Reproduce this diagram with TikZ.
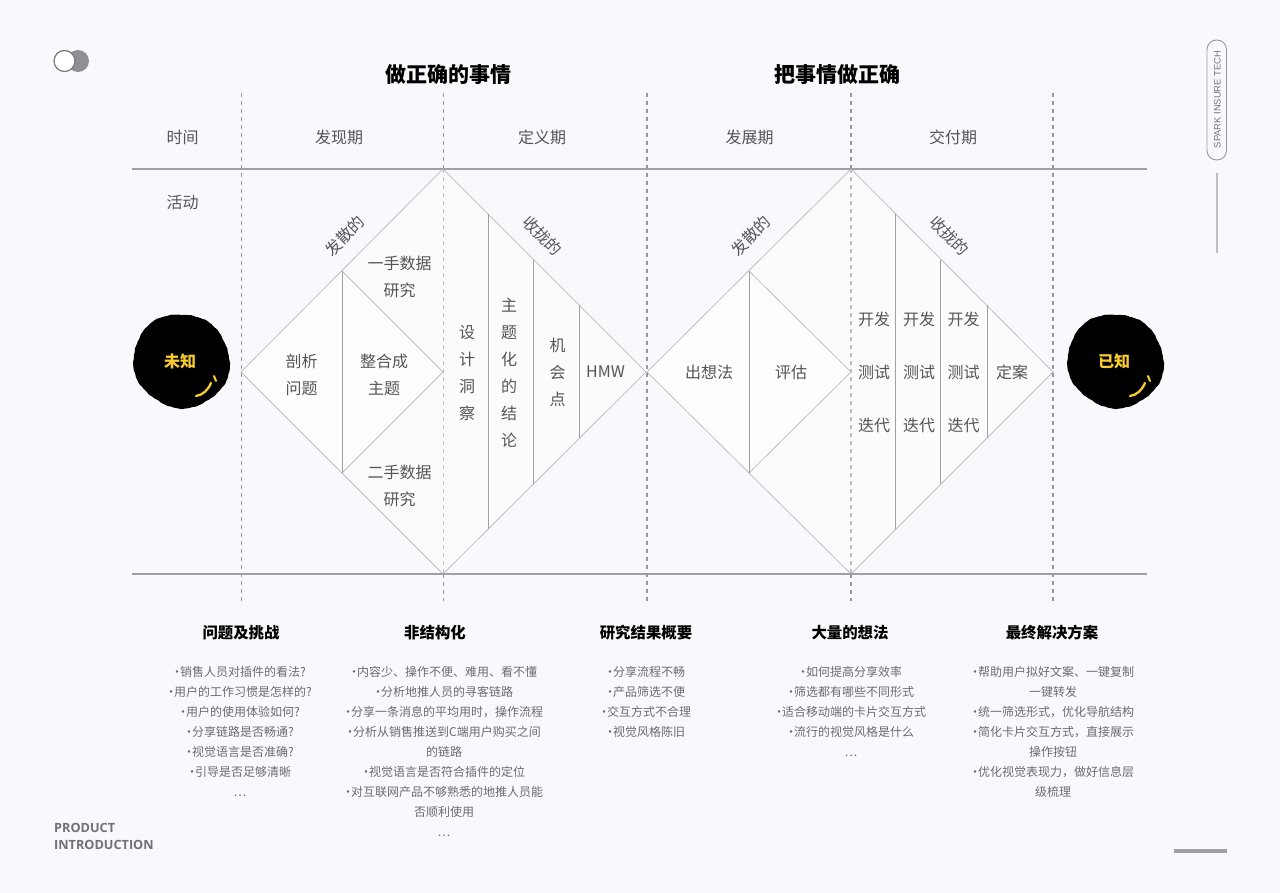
\documentclass[tikz,border=0pt]{standalone}
\usepackage{fontspec}
\setmainfont{Noto Sans CJK SC}
\newfontfamily\brandfont{Liberation Sans}
\newfontfamily\footfont{Open Sans}
\usepackage{xcolor}
\definecolor{pagebg}{HTML}{F8F8FD}
\definecolor{diamondbg}{HTML}{FBFBFE}
\definecolor{rulegray}{HTML}{A0A0A4}
\definecolor{dashgray}{HTML}{97979C}
\definecolor{thingray}{HTML}{C0C0C4}
\definecolor{labelgray}{HTML}{555558}
\definecolor{listgray}{HTML}{6C6C70}
\definecolor{knownyellow}{HTML}{F7CB2D}
\newcommand{\lidot}{\makebox[6pt]{·}}
\tikzset{
	label16/.style={text=labelgray, align=center, inner sep=0pt, font=\fontsize{16}{27}\selectfont},
	toptitle/.style={text=black, inner sep=0pt, font=\fontsize{21}{26}\bfseries\selectfont},
	coltitle/.style={text=black, inner sep=0pt, font=\fontsize{15.4}{20}\bfseries\selectfont},
	listtext/.style={text=listgray, align=center, inner sep=0pt, anchor=north, font=\fontsize{12}{20}\selectfont},
	knowntext/.style={text=knownyellow, inner sep=0pt, font=\fontsize{16}{20}\bfseries\selectfont},
	dashline/.style={draw=dashgray, line width=1.4pt, dash pattern=on 4pt off 4pt},
	midline/.style={draw=thingray, line width=1.2pt, dash pattern=on 4pt off 4pt},
	edge/.style={draw=thingray, line width=0.8pt},
	inner/.style={draw=rulegray, line width=0.9pt},
	rule/.style={draw=rulegray, line width=1.2pt},
}
\begin{document}
\begin{tikzpicture}[x=1pt,y=-1pt]
	\fill[pagebg] (0,0) rectangle (1280,893);
	\useasboundingbox (0,0) rectangle (1280,893);
	% corner marks
	\fill[rulegray!90!black] (78,61) circle (11);
	\filldraw[fill=white, draw=dashgray!80!black, line width=1.2pt] (64.5,61) circle (10.5);
	\draw[draw=thingray!80!black, line width=0.9pt, rounded corners=9.5pt] (1207,40) rectangle (1226.5,160);
	\node[text=labelgray!80, inner sep=0pt, rotate=90, font=\brandfont\fontsize{9.4}{12}\selectfont] (brand) at (1217.5,99.5) {SPARK INSURE TECH};
	\coordinate (S1) at (1217,173);
	\coordinate (S2) at (1217,253);
	\draw[draw=thingray, line width=1.3pt] (S1) -- (S2);
	\coordinate (F1) at (1174,851);
	\coordinate (F2) at (1227,851);
	\draw[draw=rulegray, line width=3.5pt] (F1) -- (F2);
	\node[anchor=north west, align=left, text=dashgray!75!black, inner sep=0pt, font=\footfont\fontsize{12.7}{17}\bfseries\selectfont] (footer) at (54,823.5) {PRODUCT\\INTRODUCTION};
	% first diamond
	\coordinate (AL) at (241,372);
	\coordinate (AT) at (443,169);
	\coordinate (AR) at (646,372);
	\coordinate (AB) at (443,574);
	\coordinate (AU) at (342,271);
	\coordinate (AM) at (443,372);
	\coordinate (AD) at (342,473);
	\fill[diamondbg] (AT) -- (AR) -- (AB) -- (AD) -- (AM) -- (AU) -- cycle;
	\fill[white!60!diamondbg] (AL) -- (AU) -- (AM) -- (AD) -- cycle;
	\draw[edge] (AL) -- (AT) -- (AR) -- (AB) -- cycle;
	\draw[edge] (AU) -- (AM) -- (AD);
	\draw[inner] (AU) -- (AD);
	\draw[inner] (488,214) -- (488,529);
	\draw[inner] (533.5,260) -- (533.5,484);
	\draw[inner] (579,305) -- (579,438);
	% second diamond
	\coordinate (BL) at (647,372);
	\coordinate (BT) at (851,169);
	\coordinate (BR) at (1053,372);
	\coordinate (BB) at (851,574);
	\coordinate (BU) at (749,271);
	\coordinate (BM) at (851,372);
	\coordinate (BD) at (749,473);
	\fill[diamondbg] (BT) -- (BR) -- (BB) -- (BD) -- (BM) -- (BU) -- cycle;
	\fill[white!60!diamondbg] (BL) -- (BU) -- (BM) -- (BD) -- cycle;
	\draw[edge] (BL) -- (BT) -- (BR) -- (BB) -- cycle;
	\draw[edge] (BU) -- (BM) -- (BD);
	\draw[inner] (BU) -- (BD);
	\draw[inner] (895,214) -- (895,529);
	\draw[inner] (940.5,260) -- (940.5,484);
	\draw[inner] (987,305) -- (987,438);
	% grid
	\draw[rule] (132,169) -- (1147,169);
	\draw[rule] (132,574) -- (1147,574);
	\foreach \px in {241.5,647,1053}
		\draw[dashline] (\px,93) -- (\px,601);
	\foreach \px in {443.5,851} {
		\draw[dashline] (\px,93) -- (\px,169);
		\draw[midline] (\px,169) -- (\px,574);
		\draw[dashline] (\px,574) -- (\px,601);
	}
	% blobs
	\foreach \bx/\bname/\btext in {181.5/unknown/未知,1115.5/known/已知} {
		\begin{scope}[shift={(\bx,361)}]
			\fill[black] plot[domain=0:360, samples=121] (\x:{47.6+0.9*sin(2*\x+40)+0.7*sin(5*\x)+0.25*sin(17*\x)+0.2*sin(41*\x)}) -- cycle;
			\draw[knownyellow, line width=2.3pt, line cap=round] (14.5,35) .. controls (21.5,34) and (26.5,29) .. (29.5,22);
			\draw[knownyellow, line width=2.1pt, line cap=round] (32.5,15) -- (34.5,20);
			\node[knowntext] (\bname) at (-1.5,0) {\btext};
		\end{scope}
	}
	% headings
	\node[toptitle] (titleleft) at (448.5,74.5) {做正确的事情};
	\node[toptitle] (titleright) at (837,74.5) {把事情做正确};
	\node[label16] (time) at (182.5,137) {时间};
	\node[label16] (discover) at (339,137) {发现期};
	\node[label16] (define) at (542,137) {定义期};
	\node[label16] (develop) at (749.5,137) {发展期};
	\node[label16] (deliver) at (953,137) {交付期};
	\node[label16] (activity) at (182.5,202) {活动};
	\node[label16, rotate=45] (divergeA) at (345,236) {发散的};
	\node[label16, rotate=-45] (convergeA) at (542.5,236) {收拢的};
	\node[label16, rotate=45] (divergeB) at (751,236) {发散的};
	\node[label16, rotate=-45] (convergeB) at (949.5,236) {收拢的};
	% diamond labels
	\node[label16] (firsthand) at (399.5,276.5) {一手数据\\研究};
	\node[label16] (secondhand) at (399.5,485.5) {二手数据\\研究};
	\node[label16] (analyse) at (301.5,375) {剖析\\问题};
	\node[label16] (theme) at (384,375) {整合成\\主题};
	\node[label16] (insight) at (467,373) {设\\计\\洞\\察};
	\node[label16] (result) at (509,372.5) {主\\题\\化\\的\\结\\论};
	\node[label16] (chance) at (557.5,372) {机\\会\\点};
	\node[label16] (hmw) at (605.5,372) {HMW};
	\node[label16] (ideas) at (709,372) {出想法};
	\node[label16] (assess) at (791,372) {评估};
	\foreach \lx/\lname in {874/iterA,919/iterB,963.5/iterC}
		\node[label16, font=\fontsize{16}{53}\selectfont] (\lname) at (\lx,372) {开发\\测试\\迭代};
	\node[label16] (final) at (1012,372) {定案};
	% columns
	\node[coltitle] (colA) at (241,632.5) {问题及挑战};
	\node[coltitle] (colB) at (435,632.5) {非结构化};
	\node[coltitle] (colC) at (646,632.5) {研究结果概要};
	\node[coltitle] (colD) at (850,632.5) {大量的想法};
	\node[coltitle] (colE) at (1052,632.5) {最终解决方案};
	\node[listtext] (listA) at (240,666.5) {\lidot 销售人员对插件的看法?\\\lidot 用户的工作习惯是怎样的?\\\lidot 用户的使用体验如何?\\\lidot 分享链路是否畅通?\\\lidot 视觉语言是否准确?\\\lidot 引导是否足够清晰\\…};
	\node[listtext] (listB) at (444,666.5) {\lidot 内容少、操作不便、难用、看不懂\\\lidot 分析地推人员的寻客链路\\\lidot 分享一条消息的平均用时，操作流程\\\lidot 分析从销售推送到C端用户购买之间\\的链路\\\lidot 视觉语言是否符合插件的定位\\\lidot 对互联网产品不够熟悉的地推人员能\\否顺利使用\\…};
	\node[listtext] (listC) at (646,666.5) {\lidot 分享流程不畅\\\lidot 产品筛选不便\\\lidot 交互方式不合理\\\lidot 视觉风格陈旧};
	\node[listtext] (listD) at (851,666.5) {\lidot 如何提高分享效率\\\lidot 筛选都有哪些不同形式\\\lidot 适合移动端的卡片交互方式\\\lidot 流行的视觉风格是什么\\…};
	\node[listtext] (listE) at (1053,666.5) {\lidot 帮助用户拟好文案、一键复制\\一键转发\\\lidot 统一筛选形式，优化导航结构\\\lidot 简化卡片交互方式，直接展示\\操作按钮\\\lidot 优化视觉表现力，做好信息层\\级梳理};
\end{tikzpicture}
\end{document}
